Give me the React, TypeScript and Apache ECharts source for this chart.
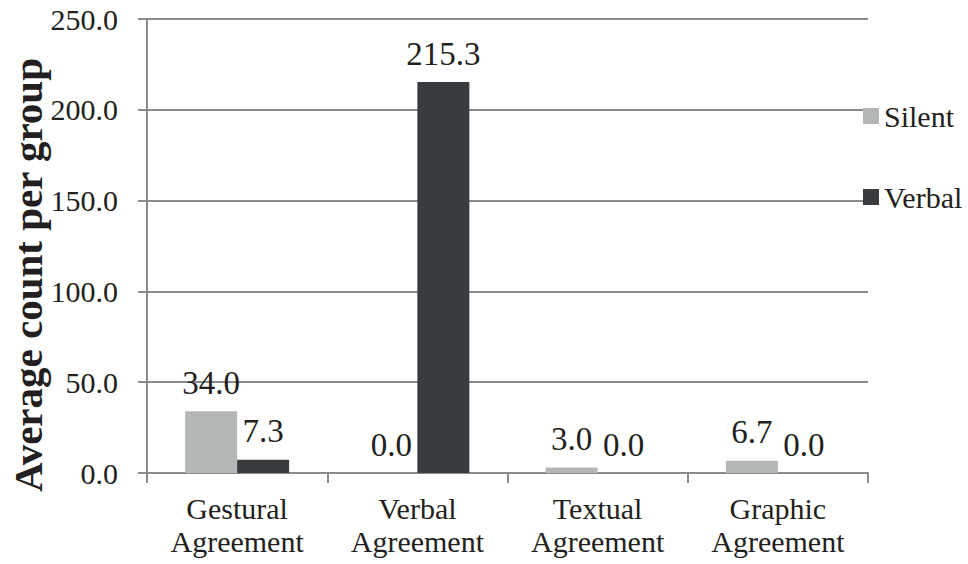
import React, { useEffect, useRef } from "react";
import * as echarts from "echarts";

const categories = ["Gestural\nAgreement", "Verbal\nAgreement", "Textual\nAgreement", "Graphic\nAgreement"];
const seriesNames = ["Silent", "Verbal"];
const silentValues = [34.0, 0.0, 3.0, 6.7];
const verbalValues = [7.3, 215.3, 0.0, 0.0];
const yAxisTitle = "Average count per group";

const FONT = "'Liberation Serif', 'Times New Roman', serif";
const TEXT = "#231f20";
const LINE = "#8a8c8c";

export default function App() {
  const ref = useRef<HTMLDivElement>(null);
  useEffect(() => {
    document.body.style.margin = "0";
    const chart = echarts.init(ref.current!, null, { renderer: "svg" });
    const label = {
      show: true,
      position: "top" as const,
      distance: 12,
      fontFamily: FONT,
      fontSize: 33,
      color: TEXT,
      formatter: (p: any) => Number(p.value).toFixed(1),
    };
    chart.setOption({
      animation: false,
      backgroundColor: "#ffffff",
      textStyle: { fontFamily: FONT },
      grid: { left: 147, right: 100, top: 19, bottom: 91 },
      legend: {
        orient: "vertical",
        left: 858,
        top: 96,
        itemWidth: 16,
        itemHeight: 16,
        itemGap: 51,
        icon: "rect",
        textStyle: { fontFamily: FONT, fontSize: 30, color: TEXT, lineHeight: 30, padding: [0, 0, 0, 0] },
        data: seriesNames,
      },
      xAxis: {
        type: "category",
        data: categories,
        axisLine: { show: true, lineStyle: { color: LINE, width: 2 } },
        axisTick: { show: true, length: 10, lineStyle: { color: LINE, width: 2 } },
        axisLabel: {
          fontFamily: FONT,
          fontSize: 30,
          lineHeight: 33,
          color: TEXT,
          margin: 19,
          interval: 0,
        },
      },
      yAxis: {
        type: "value",
        min: 0,
        max: 250,
        interval: 50,
        axisLine: { show: true, lineStyle: { color: LINE, width: 2 } },
        axisTick: { show: true, length: 9, lineStyle: { color: LINE, width: 2 } },
        splitLine: { show: true, lineStyle: { color: LINE, width: 2 } },
        axisLabel: {
          fontFamily: FONT,
          fontSize: 30,
          color: TEXT,
          margin: 29,
          formatter: (v: number) => v.toFixed(1),
        },
      },
      graphic: [
        {
          type: "text",
          x: 28,
          y: 275,
          rotation: Math.PI / 2,
          style: {
            text: yAxisTitle,
            fontFamily: FONT,
            fontWeight: "bold",
            fontSize: 41,
            fill: TEXT,
            textAlign: "center",
            textVerticalAlign: "middle",
          },
        },
      ],
      series: [
        {
          name: seriesNames[0],
          type: "bar",
          data: silentValues,
          barWidth: 52,
          barGap: "0%",
          itemStyle: { color: "#b4b7b7" },
          label,
        },
        {
          name: seriesNames[1],
          type: "bar",
          data: verbalValues,
          barWidth: 52,
          barGap: "0%",
          itemStyle: { color: "#383c3f" },
          label,
        },
      ],
    });
    return () => chart.dispose();
  }, []);
  return <div ref={ref} style={{ width: 968, height: 564 }} />;
}
